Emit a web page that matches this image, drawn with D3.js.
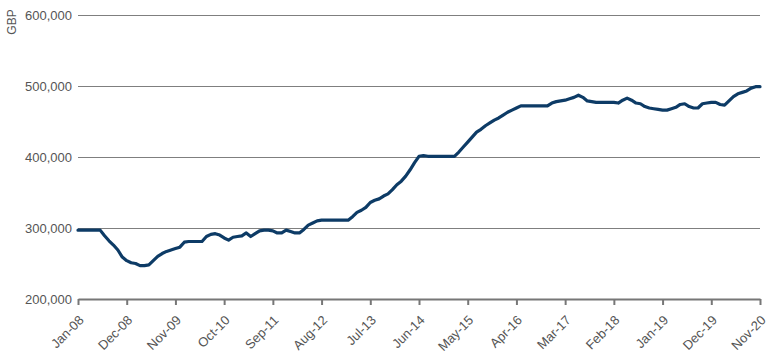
<!DOCTYPE html>
<html>
<head>
<meta charset="utf-8">
<script src="https://cdn.jsdelivr.net/npm/d3@7"></script>
<style>
  html, body { margin: 0; padding: 0; background: #fff; }
  svg { display: block; }
  text { font-family: "Liberation Sans", Arial, sans-serif; }
</style>
</head>
<body>
<svg id="chart" width="770" height="357"></svg>
<script>
// Monthly values (GBP thousands), Jan-08 .. Nov-20
const values = [
  297,297,297,297,297,297,289,282,276,269,259,254,
  251,250,247,247,248,254,260,264,267,269,271,273,
  280,281,281,281,281,288,291,292,290,286,283,287,
  288,289,293,288,292,296,297,297,296,293,293,297,
  295,293,293,298,304,307,310,311,311,311,311,311,
  311,311,316,322,325,329,336,339,341,345,348,354,
  361,366,373,382,392,401,402,401,401,401,401,401,
  401,401,407,414,421,428,435,439,444,448,452,455,
  459,463,466,469,472,472,472,472,472,472,472,476,
  478,479,480,482,484,487,484,479,478,477,477,477,
  477,477,476,480,483,480,476,475,471,469,468,467,
  466,466,468,470,474,475,471,469,469,475,476,477,
  477,474,473,479,485,489,491,493,497,499,499
];
const xTickLabels = ["Jan-08","Dec-08","Nov-09","Oct-10","Sep-11","Aug-12","Jul-13","Jun-14","May-15","Apr-16","Mar-17","Feb-18","Jan-19","Dec-19","Nov-20"];
const tickStepMonths = 11;
const yTicks = [200000, 300000, 400000, 500000, 600000];
const yLabel = "GBP";

const svg = d3.select("#chart");
const margin = {left: 78, right: 10, top: 15, bottom: 58};
const W = 770, H = 357;

const x = d3.scaleLinear().domain([0, values.length - 1]).range([margin.left, W - margin.right]);
const y = d3.scaleLinear().domain([200000, 600000]).range([H - margin.bottom, margin.top]);

// grid lines
svg.append("g").selectAll("line").data(yTicks.slice(1)).join("line")
  .attr("x1", margin.left).attr("x2", W - margin.right)
  .attr("y1", d => Math.round(y(d)) + 0.5).attr("y2", d => Math.round(y(d)) + 0.5)
  .attr("stroke", "#7f7f7f").attr("stroke-width", 1);

// y labels
svg.append("g").selectAll("text").data(yTicks).join("text")
  .attr("x", margin.left - 6).attr("y", d => y(d))
  .attr("dy", "0.35em").attr("text-anchor", "end")
  .attr("font-size", 13).attr("fill", "#555")
  .text(d => d3.format(",")(d));

// y title
svg.append("text")
  .attr("transform", `translate(16,22) rotate(-90)`)
  .attr("text-anchor", "middle").attr("font-size", 12).attr("fill", "#555")
  .text(yLabel);

// x axis
const xAxis = d3.axisBottom(x)
  .tickValues(xTickLabels.map((_, i) => i * tickStepMonths))
  .tickFormat((d, i) => xTickLabels[i])
  .tickSize(6).tickSizeOuter(0);
const gx = svg.append("g").attr("transform", `translate(0,${y(200000)})`).call(xAxis);
gx.select(".domain").attr("stroke", "#777").attr("stroke-width", 2);
gx.selectAll(".tick line").attr("stroke", "#777").attr("stroke-width", 2);
gx.selectAll(".tick text")
  .attr("font-size", 13).attr("fill", "#555")
  .attr("font-family", "Liberation Sans, Arial, sans-serif")
  .attr("text-anchor", "end")
  .attr("dy", 0).attr("y", 0)
  .attr("transform", "translate(6,22) rotate(-45)");

// line
const line = d3.line().x((d, i) => x(i)).y(d => y(d * 1000));
svg.append("path").datum(values)
  .attr("d", line).attr("fill", "none")
  .attr("stroke", "#0d3b66").attr("stroke-width", 3.2)
  .attr("stroke-linejoin", "round").attr("stroke-linecap", "round");
</script>
</body>
</html>
